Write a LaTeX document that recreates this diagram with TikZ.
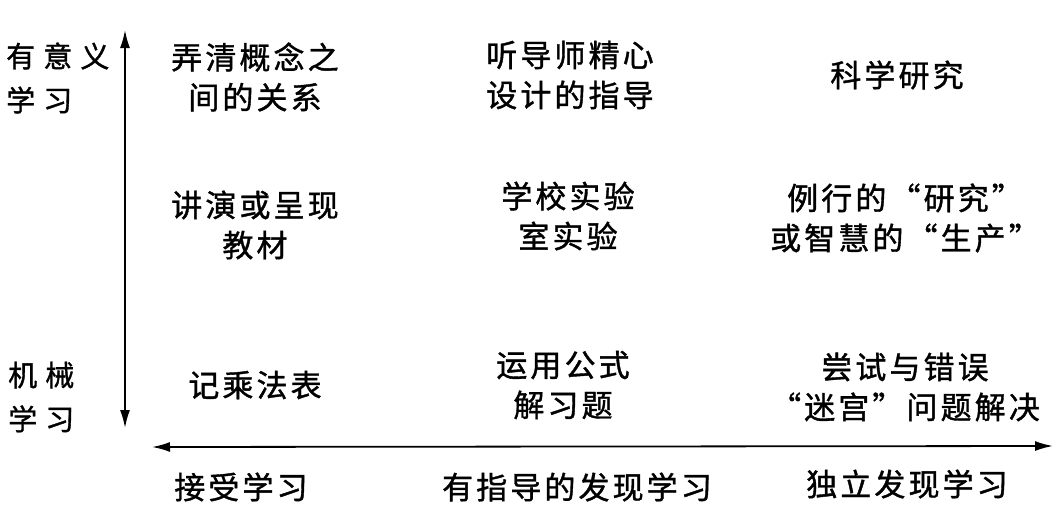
\documentclass[tikz,border=0pt]{standalone}
\usepackage{fontspec}
\newfontfamily\cjk[LetterSpace=10,FakeBold=1.2]{Noto Sans CJK SC}
\newfontfamily\cjkwide[LetterSpace=28,FakeBold=1.2]{Noto Sans CJK SC}
\usetikzlibrary{arrows.meta}

\tikzset{
    cell/.style={inner sep=0pt, align=center, font=\cjk\fontsize{31}{40}\selectfont},
    side/.style={inner sep=0pt, align=left, anchor=west, font=\cjkwide\fontsize{29}{44}\selectfont},
    axisline/.style={line width=1.8pt, {Latex[length=18pt,width=10pt]}-{Latex[length=18pt,width=10pt]}}
}

\begin{document}
\begin{tikzpicture}[x=1pt,y=1pt,yscale=-1,xscale=1]
    \useasboundingbox (0,0) rectangle (1057,528);

    % Axis ends
    \coordinate (vtop) at (125,30);
    \coordinate (vbot) at (125,428);
    \coordinate (hleft) at (152,447);
    \coordinate (hright) at (1053,446);

    % Axes
    \draw [axisline] (vbot) -- (vtop);
    \draw [axisline] (hleft) -- (hright);

    % Side labels
    \node [side] (meaningful) at (6,78) {有意义\\学习};
    \node [side] (rote) at (8,397) {机械\\学习};

    % Top row
    \node [cell] (clarify) at (255,77) {弄清概念之\\间的关系};
    \node [cell] (tutor) at (570,75) {听导师精心\\设计的指导};
    \node [cell] (research) at (897,75) {科学研究};

    % Middle row
    \node [cell] (lecture) at (255,225) {讲演或呈现\\教材};
    \node [cell] (schoollab) at (568,216) {学校实验\\室实验};
    \node [cell] (routine) at (905,218) {例行的“研究”\\或智慧的“生产”};

    % Bottom row
    \node [cell] (table) at (255,385) {记乘法表};
    \node [cell] (formula) at (563,385) {运用公式\\解习题};
    \node [cell] (trial) at (905,387) {尝试与错误\\“迷宫”问题解决};

    % Horizontal axis labels
    \node [cell] (reception) at (241,487) {接受学习};
    \node [cell] (guided) at (577,487) {有指导的发现学习};
    \node [cell] (independent) at (907,484) {独立发现学习};

\end{tikzpicture}
\end{document}
